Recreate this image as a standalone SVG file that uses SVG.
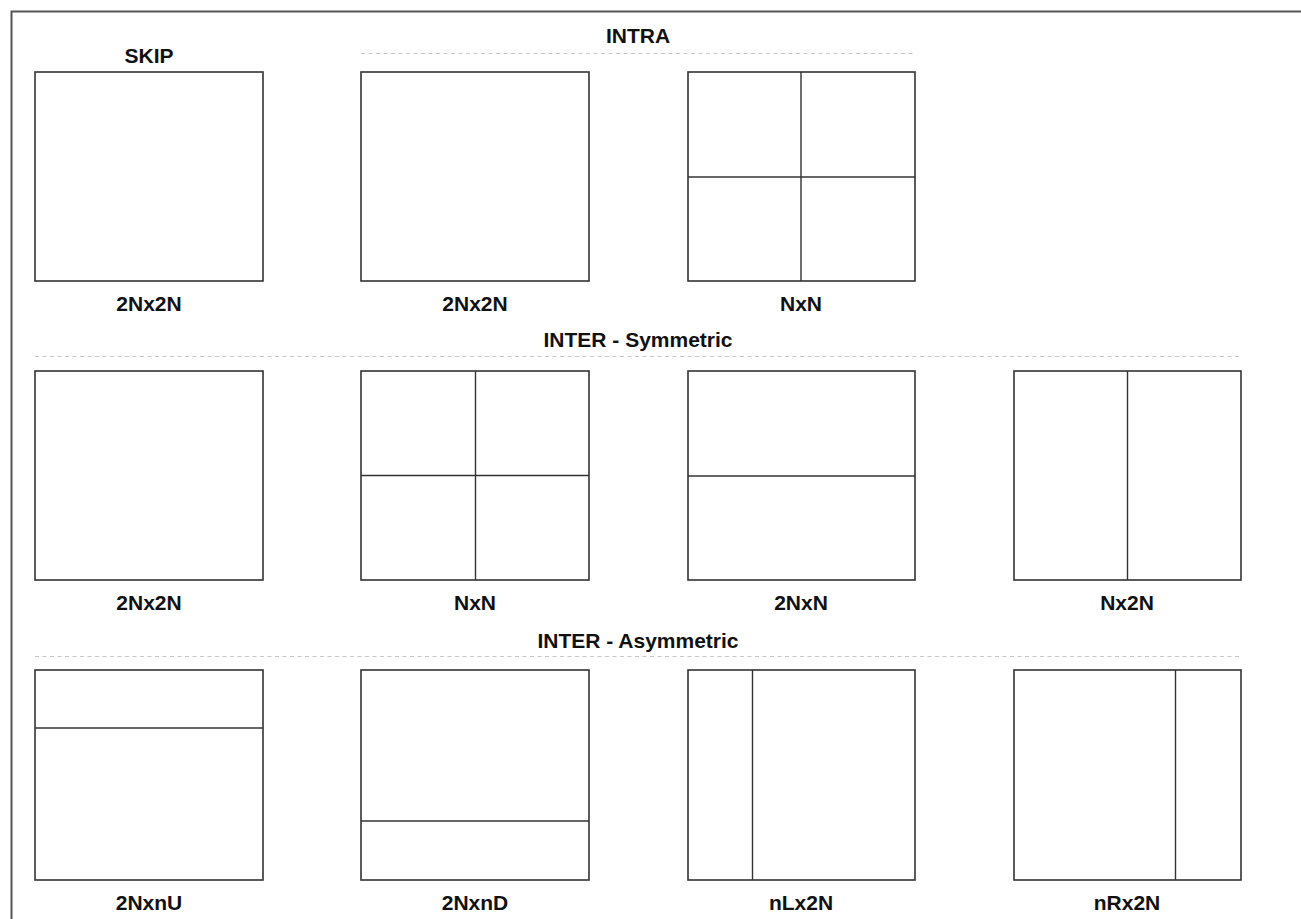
<svg xmlns="http://www.w3.org/2000/svg" width="1301" height="919" viewBox="0 0 1301 919">
<style>
.box{fill:#fff;stroke:#333;stroke-width:1.6}
.div{stroke:#333;stroke-width:1.4;fill:none}
.sep{stroke:#c8c8c8;stroke-width:1.2;stroke-dasharray:4 3.5;fill:none}
.t{font-family:"Liberation Sans",Arial,sans-serif;font-weight:bold;font-size:21px;fill:#111;text-anchor:middle}
</style>
<rect width="1301" height="919" fill="#fff"/>
<path d="M11.5,919 V11.5 H1301" fill="none" stroke="#555" stroke-width="2"/>
<g id="headers">
<text class="t" x="149" y="63">SKIP</text>
<text class="t" x="638" y="43">INTRA</text>
<line class="sep" x1="361" y1="53.5" x2="915" y2="53.5"/>
<text class="t" x="638" y="347">INTER - Symmetric</text>
<line class="sep" x1="35" y1="356.5" x2="1241" y2="356.5"/>
<text class="t" x="638" y="648">INTER - Asymmetric</text>
<line class="sep" x1="35" y1="656.5" x2="1241" y2="656.5"/>
</g>
<g id="skip-2Nx2N">
<rect class="box" x="35" y="72" width="228" height="209"/>
<text class="t" x="149" y="311">2Nx2N</text>
</g>
<g id="intra-2Nx2N">
<rect class="box" x="361" y="72" width="228" height="209"/>
<text class="t" x="475" y="311">2Nx2N</text>
</g>
<g id="intra-NxN">
<rect class="box" x="688" y="72" width="227" height="209"/>
<line class="div" x1="801" y1="72" x2="801" y2="281"/>
<line class="div" x1="688" y1="177" x2="915" y2="177"/>
<text class="t" x="801" y="311">NxN</text>
</g>
<g id="inter-2Nx2N">
<rect class="box" x="35" y="371" width="228" height="209"/>
<text class="t" x="149" y="610">2Nx2N</text>
</g>
<g id="inter-NxN">
<rect class="box" x="361" y="371" width="228" height="209"/>
<line class="div" x1="475.5" y1="371" x2="475.5" y2="580"/>
<line class="div" x1="361" y1="475.5" x2="589" y2="475.5"/>
<text class="t" x="475" y="610">NxN</text>
</g>
<g id="inter-2NxN">
<rect class="box" x="688" y="371" width="227" height="209"/>
<line class="div" x1="688" y1="476" x2="915" y2="476"/>
<text class="t" x="801" y="610">2NxN</text>
</g>
<g id="inter-Nx2N">
<rect class="box" x="1014" y="371" width="227" height="209"/>
<line class="div" x1="1127.5" y1="371" x2="1127.5" y2="580"/>
<text class="t" x="1127" y="610">Nx2N</text>
</g>
<g id="inter-2NxnU">
<rect class="box" x="35" y="670" width="228" height="210"/>
<line class="div" x1="35" y1="728" x2="263" y2="728"/>
<text class="t" x="149" y="910">2NxnU</text>
</g>
<g id="inter-2NxnD">
<rect class="box" x="361" y="670" width="228" height="210"/>
<line class="div" x1="361" y1="821" x2="589" y2="821"/>
<text class="t" x="475" y="910">2NxnD</text>
</g>
<g id="inter-nLx2N">
<rect class="box" x="688" y="670" width="227" height="210"/>
<line class="div" x1="752.5" y1="670" x2="752.5" y2="880"/>
<text class="t" x="801" y="910">nLx2N</text>
</g>
<g id="inter-nRx2N">
<rect class="box" x="1014" y="670" width="227" height="210"/>
<line class="div" x1="1175.5" y1="670" x2="1175.5" y2="880"/>
<text class="t" x="1127" y="910">nRx2N</text>
</g>
<g id="connectors"></g>
</svg>
